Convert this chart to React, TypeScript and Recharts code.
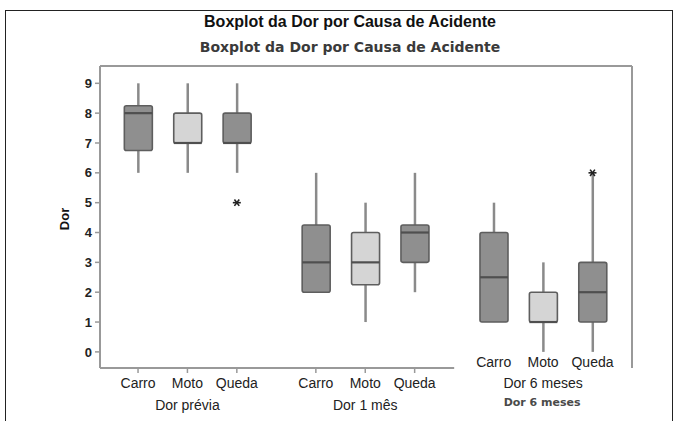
import {
  Bar,
  ComposedChart,
  ReferenceLine,
  Scatter,
  XAxis,
  YAxis,
} from "recharts";

// categories
const periods = ["Dor prévia", "Dor 1 mês", "Dor 6 meses"];
const causes = ["Carro", "Moto", "Queda"];

// box statistics, one entry per box (period-major, cause-minor)
const minVals = [6, 6, 6, 2, 1, 2, 1, 0, 0];
const q1Vals = [6.75, 7, 7, 2, 2.25, 3, 1, 1, 1];
const medVals = [8, 7, 7, 3, 3, 4, 2.5, 1, 2];
const q3Vals = [8.25, 8, 8, 4.25, 4, 4.25, 4, 2, 3];
const maxVals = [9, 9, 9, 6, 5, 6, 5, 3, 6];

// outliers (box index, value)
const outlierBoxes = [2, 8];
const outlierVals = [5, 6];

const yTicks = [0, 1, 2, 3, 4, 5, 6, 7, 8, 9];

const GROUP_STEP = 3.6;
const X_MIN = -0.77;
const X_MAX = 10.0;
const Y_MIN = -0.54;
const Y_MAX = 9.58;

const xPos = (i: number) => Math.floor(i / 3) * GROUP_STEP + (i % 3);

const rows = minVals.map((_, i) => ({
  x: xPos(i),
  whisker: [minVals[i], maxVals[i]],
  box: [q1Vals[i], q3Vals[i]],
  med: medVals[i],
  light: i % 3 === 1,
}));

const outliers = outlierBoxes.map((b, k) => ({ x: xPos(b), y: outlierVals[k] }));
const xTicks = rows.map((r) => r.x);

const FONT = "'Liberation Sans', Arial, sans-serif";
const DEJAVU = "'DejaVu Sans', sans-serif";

function WhiskerShape(props: any) {
  const { x, y, width, height } = props;
  const top = Math.min(y, y + height);
  const bottom = Math.max(y, y + height);
  const cx = x + width / 2;
  return <line x1={cx} x2={cx} y1={top} y2={bottom} stroke="#8a8a8a" strokeWidth={2.5} />;
}

function BoxShape(props: any) {
  const { x, y, width, height, payload } = props;
  const top = Math.min(y, y + height);
  const h = Math.abs(height);
  return (
    <rect
      x={x}
      y={top}
      width={width}
      height={h}
      rx={2}
      fill={payload.light ? "#d5d5d5" : "#8f8f8f"}
      stroke="#5e5e5e"
      strokeWidth={1.6}
    />
  );
}

function MedianShape(props: any) {
  const { x, y, width, height } = props;
  const top = Math.min(y, y + height);
  return <line x1={x} x2={x + width} y1={top} y2={top} stroke="#4f4f4f" strokeWidth={2.2} />;
}

function Asterisk(props: any) {
  const { cx, cy } = props;
  const r = 4;
  return (
    <g stroke="#222" strokeWidth={1.6}>
      <line x1={cx - r} x2={cx + r} y1={cy} y2={cy} />
      <line x1={cx - r * 0.6} x2={cx + r * 0.6} y1={cy - r * 0.8} y2={cy + r * 0.8} />
      <line x1={cx - r * 0.6} x2={cx + r * 0.6} y1={cy + r * 0.8} y2={cy - r * 0.8} />
    </g>
  );
}

function CatTick(props: any) {
  const { x, y, index } = props;
  const g = Math.floor(index / 3);
  const c = index % 3;
  const last = g === 2;
  const labelY = last ? y - 1 : y + 20;
  const groupY = last ? y + 20 : y + 42;
  return (
    <g>
      {!last && <line x1={x} x2={x} y1={y} y2={y + 5} stroke="#999" strokeWidth={1.5} />}
      <text x={x} y={labelY} textAnchor="middle" fontSize={14} fontFamily={FONT} fill="#222">
        {causes[c]}
      </text>
      {c === 1 && (
        <text x={x} y={groupY} textAnchor="middle" fontSize={14} fontFamily={FONT} fill="#222">
          {periods[g]}
        </text>
      )}
      {c === 1 && last && (
        <text
          x={x - 1}
          y={y + 38}
          textAnchor="middle"
          fontSize={11}
          fontWeight="bold"
          fontFamily={DEJAVU}
          fill="#4a4a4a"
        >
          {periods[g]}
        </text>
      )}
    </g>
  );
}

export default function App() {
  return (
    <div style={{ position: "absolute", left: 0, top: 0, width: 677, height: 421, background: "#fff", overflow: "hidden" }}>
      <div
        style={{
          position: "absolute",
          left: 5,
          top: 10,
          width: 666,
          height: 430,
          border: "1px solid #222",
        }}
      />
      <div
        style={{
          position: "absolute",
          left: 150,
          width: 400,
          top: 13,
          textAlign: "center",
          fontFamily: FONT,
          fontWeight: "bold",
          fontSize: 16,
          color: "#111",
          lineHeight: "18px",
        }}
      >
        Boxplot da Dor por Causa de Acidente
      </div>
      <div
        style={{
          position: "absolute",
          left: 150,
          width: 400,
          top: 38,
          textAlign: "center",
          fontFamily: DEJAVU,
          fontWeight: "bold",
          fontSize: 14,
          color: "#3a3a3a",
          lineHeight: "18px",
        }}
      >
        Boxplot da Dor por Causa de Acidente
      </div>
      <div
        style={{
          position: "absolute",
          left: 45,
          top: 210,
          width: 40,
          textAlign: "center",
          transform: "rotate(-90deg)",
          fontFamily: FONT,
          fontWeight: "bold",
          fontSize: 13,
          color: "#111",
          lineHeight: "18px",
        }}
      >
        Dor
      </div>
      <div style={{ position: "absolute", left: 0, top: 0 }}>
        <ComposedChart
          width={677}
          height={421}
          data={rows}
          margin={{ top: 66, right: 45, bottom: 0, left: 60 }}
        >
          <XAxis
            dataKey="x"
            type="number"
            domain={[X_MIN, X_MAX]}
            ticks={xTicks}
            allowDataOverflow
            axisLine={false}
            tickLine={false}
            tickSize={0}
            tickMargin={0}
            height={53}
            interval={0}
            tick={<CatTick />}
          />
          <XAxis xAxisId="w" dataKey="x" type="number" domain={[X_MIN, X_MAX]} ticks={xTicks} allowDataOverflow hide />
          <XAxis xAxisId="m" dataKey="x" type="number" domain={[X_MIN, X_MAX]} ticks={xTicks} allowDataOverflow hide />
          <YAxis
            type="number"
            domain={[Y_MIN, Y_MAX]}
            ticks={yTicks}
            allowDataOverflow
            width={40}
            axisLine={{ stroke: "#999", strokeWidth: 2 }}
            tickLine={{ stroke: "#999", strokeWidth: 1.5 }}
            tickSize={5}
            tickMargin={3}
            tick={{ fontSize: 13, fontWeight: "bold", fill: "#222", fontFamily: FONT }}
          />
          <ReferenceLine y={Y_MAX} stroke="#999" strokeWidth={2} />
          <ReferenceLine x={X_MAX} stroke="#999" strokeWidth={2} />
          <ReferenceLine
            segment={[
              { x: X_MIN, y: Y_MIN },
              { x: 6.4, y: Y_MIN },
            ]}
            stroke="#999"
            strokeWidth={2}
          />
          <Bar xAxisId="w" dataKey="whisker" barSize={28} shape={<WhiskerShape />} isAnimationActive={false} />
          <Bar dataKey="box" barSize={28} shape={<BoxShape />} isAnimationActive={false} />
          <Bar xAxisId="m" dataKey="med" barSize={28} shape={<MedianShape />} isAnimationActive={false} />
          <Scatter data={outliers} dataKey="y" shape={<Asterisk />} isAnimationActive={false} />
        </ComposedChart>
      </div>
    </div>
  );
}
